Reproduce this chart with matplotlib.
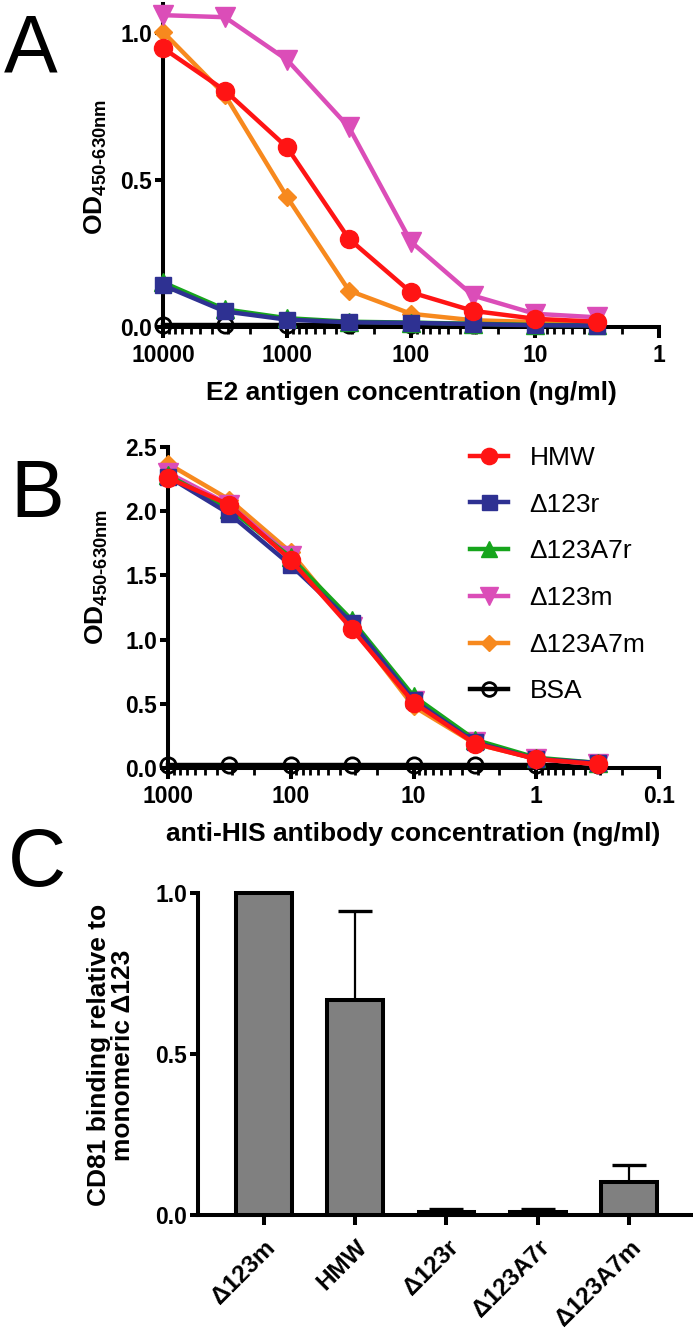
import numpy as np
import matplotlib
matplotlib.use("Agg")
import matplotlib.pyplot as plt
from matplotlib.ticker import LogLocator, FuncFormatter, NullFormatter, FixedLocator

plt.rcParams['font.family'] = ['Liberation Sans', 'DejaVu Sans']
plt.rcParams['mathtext.fontset'] = 'custom'
plt.rcParams['mathtext.rm'] = 'Liberation Sans:bold'
plt.rcParams['mathtext.bf'] = 'Liberation Sans:bold'

# ---------------- data ----------------
series_names = ['HMW', 'Δ123r', 'Δ123A7r', 'Δ123m', 'Δ123A7m', 'BSA']

conc_A = [10000, 3162, 1000, 316.2, 100, 31.62, 10, 3.162]
hmw_A = [0.95, 0.805, 0.612, 0.30, 0.118, 0.055, 0.028, 0.018]
d123r_A = [0.142, 0.053, 0.025, 0.016, 0.014, 0.010, 0.006, 0.005]
d123a7r_A = [0.152, 0.060, 0.030, 0.018, 0.015, 0.011, 0.007, 0.006]
d123m_A = [1.062, 1.055, 0.91, 0.68, 0.29, 0.107, 0.045, 0.033]
d123a7m_A = [1.005, 0.79, 0.443, 0.124, 0.045, 0.023, 0.017, 0.012]
bsa_A = [0.008, 0.008, 0.008, 0.008, 0.008, 0.008, 0.008, 0.008]

conc_B = [1000, 316.2, 100, 31.62, 10, 3.162, 1, 0.3162]
hmw_B = [2.26, 2.05, 1.62, 1.08, 0.51, 0.19, 0.07, 0.03]
d123r_B = [2.27, 1.98, 1.58, 1.13, 0.53, 0.20, 0.07, 0.04]
d123a7r_B = [2.28, 2.02, 1.64, 1.15, 0.56, 0.22, 0.08, 0.04]
d123m_B = [2.30, 2.05, 1.65, 1.10, 0.52, 0.20, 0.07, 0.03]
d123a7m_B = [2.37, 2.09, 1.68, 1.10, 0.48, 0.19, 0.07, 0.03]
bsa_B = [0.02, 0.02, 0.02, 0.02, 0.02, 0.02, 0.02, 0.02]

bar_labels = ['Δ123m', 'HMW', 'Δ123r', 'Δ123A7r', 'Δ123A7m']
bar_means = [1.0, 0.668, 0.010, 0.010, 0.104]
bar_errs = [0.0, 0.275, 0.008, 0.008, 0.051]

# ---------------- styles ----------------
styles = {
    'HMW':     dict(color='#FF1414', marker='o', ms=13, mfc='#FF1414'),
    'Δ123r':   dict(color='#2E3192', marker='s', ms=12, mfc='#2E3192'),
    'Δ123A7r': dict(color='#16A51C', marker='^', ms=13.5, mfc='#16A51C'),
    'Δ123m':   dict(color='#DB4DB8', marker='v', ms=14, mfc='#DB4DB8'),
    'Δ123A7m': dict(color='#F7891E', marker='D', ms=8.8, mfc='#F7891E'),
    'BSA':     dict(color='black', marker='o', ms=11, mfc='none', mew=2.0),
}

W, H = 693, 1330
fig = plt.figure(figsize=(W / 100, H / 100), dpi=100)


def px_axes(left, top, right, bottom):
    return fig.add_axes([left / W, 1 - bottom / H, (right - left) / W, (bottom - top) / H])


AX_LW = 2.9
TICK_FS = 16.5
LABEL_FS = 19


def style_axes(ax):
    for s in ['top', 'right']:
        ax.spines[s].set_visible(False)
    for s in ['left', 'bottom']:
        ax.spines[s].set_linewidth(AX_LW)
    ax.tick_params(axis='y', which='major', direction='out', length=6, width=AX_LW,
                   labelsize=TICK_FS, pad=2)
    ax.tick_params(axis='x', which='major', direction='out', length=8, width=AX_LW,
                   labelsize=TICK_FS, pad=4)
    for lab in ax.get_xticklabels() + ax.get_yticklabels():
        lab.set_fontweight('bold')


def log_x(ax):
    ax.set_xscale('log')
    ax.xaxis.set_major_locator(LogLocator(base=10, numticks=12))
    ax.xaxis.set_minor_locator(LogLocator(base=10, subs=np.arange(2, 10), numticks=12))
    ax.xaxis.set_major_formatter(FuncFormatter(lambda v, p: f'{v:g}'))
    ax.xaxis.set_minor_formatter(NullFormatter())
    ax.tick_params(axis='x', which='minor', direction='out', length=5, width=2.0)


def draw_curves(ax, x, data):
    lines = {}
    for name in ['BSA', 'Δ123A7m', 'Δ123m', 'Δ123A7r', 'Δ123r', 'HMW']:
        st = styles[name]
        ln, = ax.plot(x, data[name], color=st['color'], marker=st['marker'],
                      markersize=st['ms'], markerfacecolor=st['mfc'],
                      markeredgecolor=st['color'], markeredgewidth=st.get('mew', 1.0),
                      linewidth=3.2, clip_on=False, zorder=3, label=name)
        lines[name] = ln
    return lines


# ---------------- Panel A ----------------
axA = px_axes(163, 4, 659, 327)
dataA = {'HMW': hmw_A, 'Δ123r': d123r_A, 'Δ123A7r': d123a7r_A,
         'Δ123m': d123m_A, 'Δ123A7m': d123a7m_A, 'BSA': bsa_A}
draw_curves(axA, conc_A, dataA)
log_x(axA)
axA.set_xlim(10000, 1)
axA.set_ylim(0, 1.1)
axA.yaxis.set_major_locator(FixedLocator([0, 0.5, 1.0]))
axA.yaxis.set_major_formatter(FuncFormatter(lambda v, p: f'{v:.1f}'))
style_axes(axA)
axA.set_xlabel('E2 antigen concentration (ng/ml)', fontsize=LABEL_FS, fontweight='bold',
               labelpad=10)

# ---------------- Panel B ----------------
axB = px_axes(168, 447, 659, 768)
dataB = {'HMW': hmw_B, 'Δ123r': d123r_B, 'Δ123A7r': d123a7r_B,
         'Δ123m': d123m_B, 'Δ123A7m': d123a7m_B, 'BSA': bsa_B}
linesB = draw_curves(axB, conc_B, dataB)
log_x(axB)
axB.set_xlim(1000, 0.1)
axB.set_ylim(0, 2.5)
axB.yaxis.set_major_locator(FixedLocator([0, 0.5, 1.0, 1.5, 2.0, 2.5]))
axB.yaxis.set_major_formatter(FuncFormatter(lambda v, p: f'{v:.1f}'))
style_axes(axB)
axB.set_xlabel('anti-HIS antibody concentration (ng/ml)', fontsize=LABEL_FS,
               fontweight='bold', labelpad=10)

leg = axB.legend([linesB[n] for n in series_names], series_names, loc='upper left',
                 bbox_to_anchor=(470 / W, 1 - 446 / H), bbox_transform=fig.transFigure,
                 frameon=False, fontsize=19, handlelength=1.45, handletextpad=0.8,
                 labelspacing=0.86, borderpad=0, borderaxespad=0, numpoints=1,
                 markerscale=0.9)

# ---------------- Panel C ----------------
axC = px_axes(198, 893, 693, 1215)
xpos = np.arange(len(bar_labels))
axC.bar(xpos, bar_means, width=0.61, color='#808080', edgecolor='black',
        linewidth=2.9, zorder=3, clip_on=False)
axC.errorbar(xpos, bar_means, yerr=[np.zeros(len(bar_errs)), bar_errs], fmt='none',
             ecolor='black', elinewidth=1.6, capsize=12, capthick=2.4, zorder=2,
             clip_on=False)
axC.set_xlim(-0.72, 4.70)
axC.set_ylim(0, 1.0)
axC.set_xticks(xpos)
axC.set_xticklabels(bar_labels, rotation=45, ha='right', va='top',
                    rotation_mode='anchor')
axC.yaxis.set_major_locator(FixedLocator([0, 0.5, 1.0]))
axC.yaxis.set_major_formatter(FuncFormatter(lambda v, p: f'{v:.1f}'))
style_axes(axC)
axC.tick_params(axis='x', which='major', length=7, pad=8, labelsize=17.5)

# ---------------- y labels and panel letters ----------------
ylab = r'OD$_{\mathbf{450}\text{-}\mathbf{630nm}}$'
fig.text(96 / W, 1 - 167 / H, ylab, rotation=90, ha='center', va='center',
         fontsize=LABEL_FS, fontweight='bold')
fig.text(97 / W, 1 - 577 / H, ylab, rotation=90, ha='center', va='center',
         fontsize=LABEL_FS, fontweight='bold')
fig.text(111 / W, 1 - 1055 / H, 'CD81 binding relative to\nmonomeric Δ123', rotation=90,
         ha='center', va='center', fontsize=LABEL_FS, fontweight='bold',
         multialignment='center', linespacing=1.0)

fig.text(4 / W, 1 - 72 / H, 'A', fontsize=58, ha='left', va='baseline')
fig.text(10 / W, 1 - 517 / H, 'B', fontsize=58, ha='left', va='baseline')
fig.text(8 / W, 1 - 886 / H, 'C', fontsize=58, ha='left', va='baseline')

fig.savefig('out.png', dpi=100)
